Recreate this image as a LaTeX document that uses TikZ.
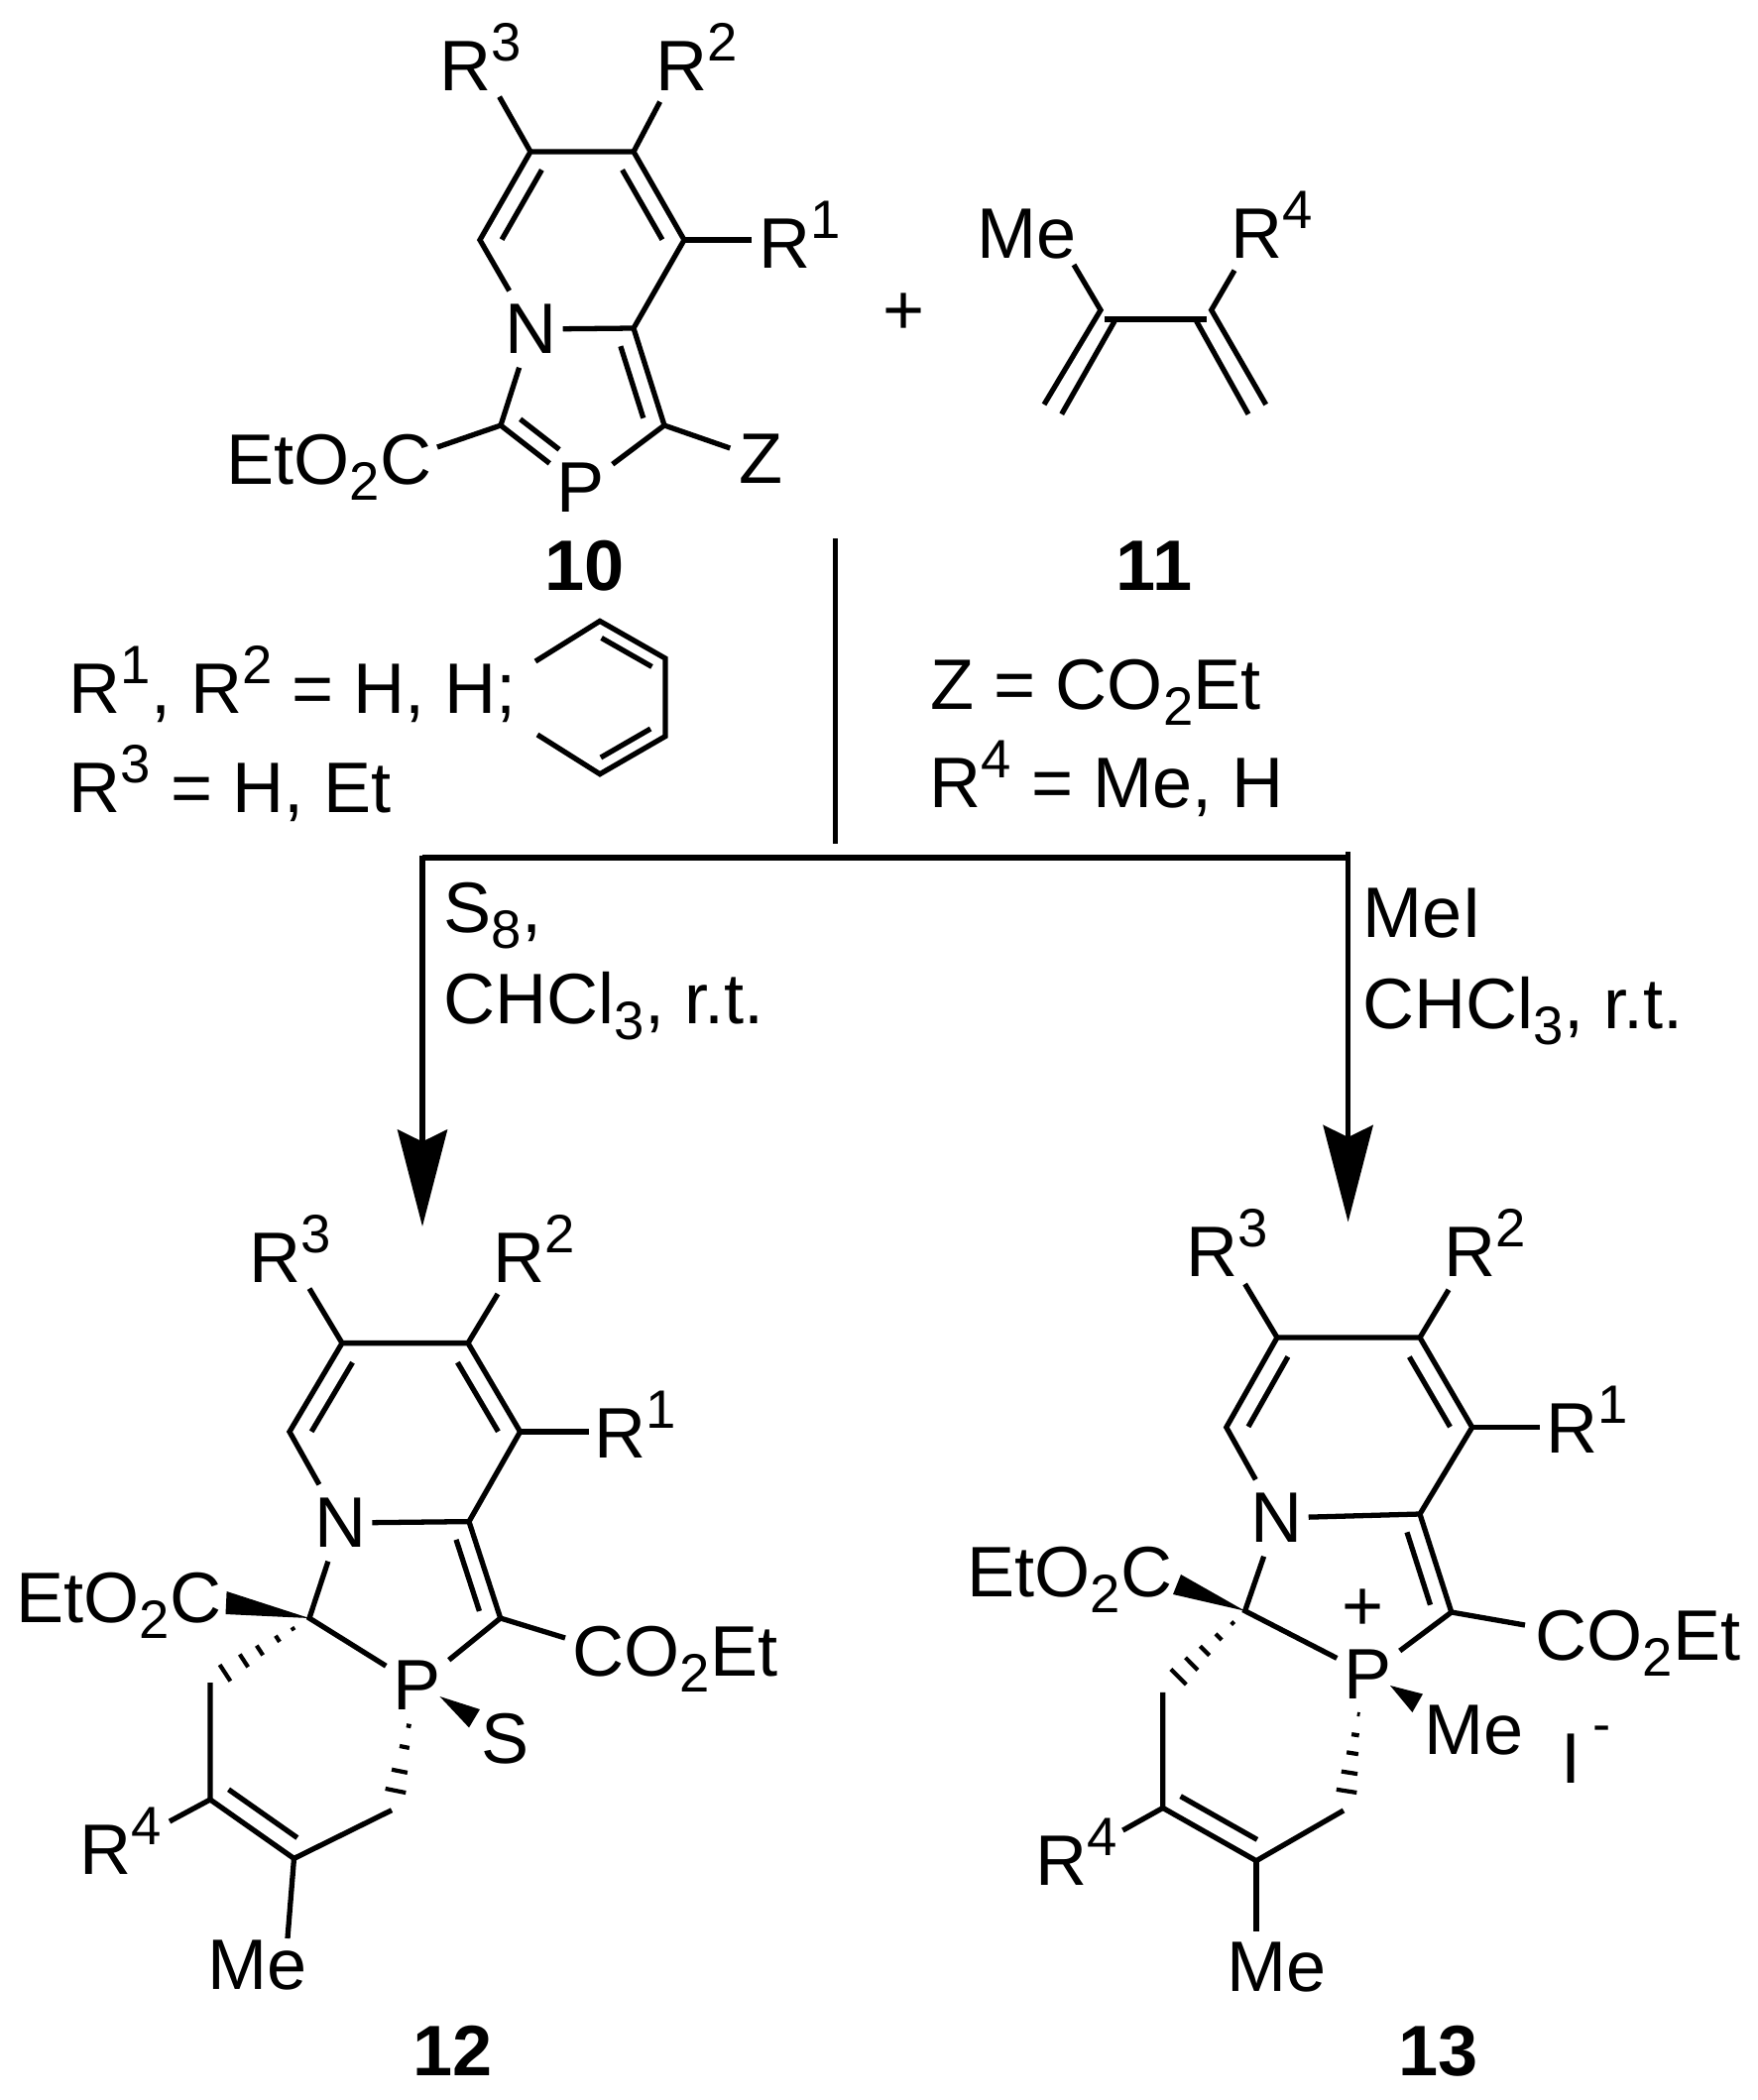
\documentclass[tikz,border=0pt]{standalone}
\usepackage{fontspec}
\setmainfont{Liberation Sans}
\usetikzlibrary{arrows.meta,calc}
\newcommand{\up}[1]{\raisebox{8.5pt}{\fontsize{15.5}{15.5}\selectfont #1}}
\newcommand{\dn}[1]{\raisebox{-4.6pt}{\fontsize{15.5}{15.5}\selectfont #1}}
\newcommand{\upminus}{\raisebox{11.5pt}{\fontsize{15.5}{15.5}\selectfont -}}
% inner line of a double bond: ends, two fractions, offset
\newcommand{\innerbond}[5]{\draw[bond] ($(#1)!#3!(#2)!#5!90:(#2)$) -- ($(#1)!#4!(#2)!#5!90:(#2)$);}
% hashed bond: ends, fractions, half width per unit
\newcommand{\hashbond}[4]{\foreach \t in {#3} {
    \pgfmathsetmacro{\hw}{\t*#4}
    \draw[hashline] ($(#1)!\t!(#2)!\hw pt!90:(#2)$) -- ($(#1)!\t!(#2)!-\hw pt!90:(#2)$);
}}

\begin{document}
\begin{tikzpicture}[
    x=0.01cm, y=-0.01cm,
    bond/.style={line width=1.5pt, black},
    hashline/.style={line width=1.2pt, black},
    wedge/.style={fill=black, draw=none},
    atom/.style={inner sep=0pt, minimum width=0.62cm, minimum height=0.76cm, font=\fontsize{20.5}{24}\selectfont},
    chemlabel/.style={inner sep=0pt, anchor=base west, font=\fontsize{20.5}{24}\selectfont},
    compound/.style={inner sep=0pt, anchor=base, font=\fontsize{20.5}{24}\selectfont\bfseries},
    arrow/.style={-{Stealth[length=0.975cm, width=0.5cm, inset=0.12cm]}, line width=1.5pt, black}
]
\useasboundingbox (0,0) rectangle (1772,2118);

% compound 10
\coordinate (aa) at (535,153);
\coordinate (ab) at (639,153);
\coordinate (ac) at (690,242);
\coordinate (ad) at (639,331);
\coordinate (ae) at (484,242);
\coordinate (af) at (670,429);
\coordinate (ag) at (505,429);
\node[atom] (aN) at (536,332) {N};
\node[atom] (aP) at (586,492) {P};
\node[atom] (aZ) at (768,463) {Z};
\node[chemlabel] (aR3) at (443,91) {R\up{3}};
\node[chemlabel] (aR2) at (661,91) {R\up{2}};
\node[chemlabel] (aR1) at (765,270) {R\up{1}};
\node[chemlabel] (aE) at (228,488) {EtO\dn{2}C};
\node[compound] (n10) at (590,595) {10};
\coordinate (aR3e) at (503.6,97.6);
\coordinate (aR2e) at (665.6,102.6);
\coordinate (aR1e) at (758,242);
\coordinate (aEe) at (441,451);
\draw[bond] (aN) -- (ae) -- (aa) -- (ab) -- (ac) -- (ad) -- (aN);
\draw[bond] (aN) -- (ag) -- (aP) -- (af) -- (ad);
\draw[bond] (aa) -- (aR3e);
\draw[bond] (ab) -- (aR2e);
\draw[bond] (ac) -- (aR1e);
\draw[bond] (ag) -- (aEe);
\draw[bond] (af) -- (aZ);
\innerbond{aa}{ae}{.1}{.89}{.19cm}
\innerbond{ab}{ac}{.1}{.89}{-.19cm}
\innerbond{ad}{af}{.13}{.87}{-.18cm}
\innerbond{ag}{aP}{.114}{.6}{.17cm}

% plus sign
\node[chemlabel, anchor=center] (plus) at (912,317) {+};

% compound 11
\coordinate (bk) at (1110,312.7);
\coordinate (bl) at (1221.7,312.7);
\coordinate (bka) at (1053,408);
\coordinate (bkb) at (1124,324);
\coordinate (bkc) at (1070.7,417.7);
\coordinate (bla) at (1276.7,408);
\coordinate (blb) at (1206.7,324);
\coordinate (blc) at (1259,417.7);
\coordinate (bma) at (1114,322);
\coordinate (bmb) at (1216.7,322);
\coordinate (bMe) at (1083,267);
\coordinate (bRe) at (1245,272.7);
\node[chemlabel] (bMel) at (985,260.7) {Me};
\node[chemlabel] (bR4) at (1241,260.7) {R\up{4}};
\node[compound] (n11) at (1164,595) {11};
\draw[bond] (bMe) -- (bk) -- (bka);
\draw[bond] (bkb) -- (bkc);
\draw[bond] (bma) -- (bmb);
\draw[bond] (bRe) -- (bl) -- (bla);
\draw[bond] (blb) -- (blc);

% conditions
\node[chemlabel] (cA) at (69,719.6) {R\up{1}, R\up{2} = H, H;};
\node[chemlabel] (cB) at (69,819) {R\up{3} = H, Et};
\node[chemlabel] (cC) at (938,715) {Z = CO\dn{2}Et};
\node[chemlabel] (cD) at (937,814.7) {R\up{4} = Me, H};
\coordinate (ra) at (540,667);
\coordinate (rb) at (605,626.4);
\coordinate (rc) at (671,664);
\coordinate (rd) at (671,742.6);
\coordinate (re) at (605,780.7);
\coordinate (rf) at (542,741);
\draw[bond] (ra) -- (rb) -- (rc) -- (rd) -- (re) -- (rf);
\innerbond{rb}{rc}{.13}{.9}{-.14cm}
\innerbond{rd}{re}{.12}{.88}{-.14cm}

% reaction lines
\coordinate (vt) at (842.7,543);
\coordinate (vb) at (842.7,851);
\coordinate (hl) at (426,862.5);
\coordinate (hm) at (426,865);
\coordinate (hr) at (1357,865);
\coordinate (tl) at (426,1237);
\coordinate (rs) at (1359.6,859);
\coordinate (tr) at (1359.6,1232.5);
\draw[bond] (vt) -- (vb);
\draw[bond, line width=1.7pt] (hm) -- (hr);
\draw[arrow] (hl) -- (tl);
\draw[arrow] (rs) -- (tr);
\node[chemlabel] (s8) at (447,940) {S\dn{8},};
\node[chemlabel] (cl) at (447,1032) {CHCl\dn{3}, r.t.};
\node[chemlabel] (mei) at (1374,945) {MeI};
\node[chemlabel] (cr) at (1374,1037) {CHCl\dn{3}, r.t.};

% compound 12
\coordinate (da) at (345,1354.6);
\coordinate (db) at (472,1354.6);
\coordinate (dc) at (524.6,1444);
\coordinate (dd) at (473,1534.6);
\coordinate (de) at (292,1444);
\coordinate (df) at (504.7,1632);
\coordinate (dg) at (312,1632);
\coordinate (dh) at (212,1697);
\coordinate (di) at (212,1815);
\coordinate (dj) at (296.5,1874.4);
\coordinate (dk) at (395,1825.7);
\coordinate (dhs) at (416,1722);
\node[atom] (dN) at (343.6,1536) {N};
\node[atom] (dP) at (421,1700) {P};
\node[chemlabel, anchor=center] (dS) at (510,1754) {S};
\node[chemlabel] (dR3) at (251,1293.4) {R\up{3}};
\node[chemlabel] (dR2) at (497,1293.4) {R\up{2}};
\node[chemlabel] (dR1) at (599,1470.7) {R\up{1}};
\node[chemlabel] (dR4) at (80,1890) {R\up{4}};
\node[chemlabel] (dEa) at (16,1636) {EtO\dn{2}C};
\node[chemlabel] (dEb) at (577,1690) {CO\dn{2}Et};
\node[chemlabel] (dMe) at (209,2006) {Me};
\node[compound] (n12) at (456.6,2093.5) {12};
\coordinate (dR3e) at (312,1299.6);
\coordinate (dR2e) at (502,1305);
\coordinate (dR1e) at (593.6,1444);
\coordinate (dR4e) at (171,1837);
\coordinate (dEe) at (570,1652);
\coordinate (dMee) at (290,1955);
\coordinate (dwa) at (228.6,1605);
\coordinate (dwb) at (227.5,1628);
\coordinate (dsa) at (443.5,1711);
\coordinate (dsb) at (484,1724);
\coordinate (dsc) at (473,1742.4);
\draw[bond] (dN) -- (de) -- (da) -- (db) -- (dc) -- (dd) -- (dN);
\draw[bond] (dN) -- (dg) -- (dP) -- (df) -- (dd);
\draw[bond] (da) -- (dR3e);
\draw[bond] (db) -- (dR2e);
\draw[bond] (dc) -- (dR1e);
\draw[bond] (df) -- (dEe);
\draw[bond] (dh) -- (di) -- (dj) -- (dk);
\draw[bond] (di) -- (dR4e);
\draw[bond] (dj) -- (dMee);
\innerbond{da}{de}{.11}{.89}{.19cm}
\innerbond{db}{dc}{.11}{.89}{-.19cm}
\innerbond{dd}{df}{.13}{.87}{-.18cm}
\innerbond{di}{dj}{.09}{.91}{.19cm}
\fill[wedge] (dg) -- (dwa) -- (dwb) -- cycle;
\fill[wedge] (dsa) -- (dsb) -- (dsc) -- cycle;
\hashbond{dg}{dh}{.165,.32,.5,.66,.85}{3.3}
\hashbond{dhs}{dk}{.18,.385,.62,.81}{3.7}

% compound 13
\coordinate (ea) at (1288,1349);
\coordinate (eb) at (1432,1349);
\coordinate (ec) at (1484.7,1439.5);
\coordinate (ed) at (1432,1527);
\coordinate (ee) at (1236.8,1439.5);
\coordinate (ef) at (1463.8,1626);
\coordinate (eg) at (1255.6,1624.7);
\coordinate (eh) at (1172.8,1706.8);
\coordinate (ei) at (1172.8,1823.4);
\coordinate (ej) at (1267,1876.7);
\coordinate (ek) at (1355,1826);
\coordinate (ehs) at (1372,1717);
\node[atom] (eN) at (1288,1531) {N};
\node[atom] (eP) at (1380,1688.7) {P};
\node[chemlabel, anchor=center] (eplus) at (1374.6,1623.5) {+};
\node[chemlabel] (eR3) at (1196,1287.8) {R\up{3}};
\node[chemlabel] (eR2) at (1456,1287.8) {R\up{2}};
\node[chemlabel] (eR1) at (1559,1465) {R\up{1}};
\node[chemlabel] (eR4) at (1044,1901) {R\up{4}};
\node[chemlabel] (eEa) at (975,1610.5) {EtO\dn{2}C};
\node[chemlabel] (eEb) at (1548,1674.5) {CO\dn{2}Et};
\node[chemlabel] (eMea) at (1237,2008.6) {Me};
\node[chemlabel] (eMeb) at (1436,1769) {Me};
\node[chemlabel] (eI) at (1574,1798) {I\,\upminus};
\node[compound] (n13) at (1450.6,2093.5) {13};
\coordinate (eR3e) at (1255.6,1295);
\coordinate (eR2e) at (1461,1300.8);
\coordinate (eR1e) at (1553,1439.5);
\coordinate (eR4e) at (1132.4,1846);
\coordinate (eEe) at (1538,1639);
\coordinate (eMee) at (1267,1947.5);
\coordinate (ewa) at (1191,1588);
\coordinate (ewb) at (1183,1608);
\coordinate (esa) at (1402,1700);
\coordinate (esb) at (1435,1708.5);
\coordinate (esc) at (1424.4,1727);
\draw[bond] (eN) -- (ee) -- (ea) -- (eb) -- (ec) -- (ed) -- (eN);
\draw[bond] (eN) -- (eg) -- (eP) -- (ef) -- (ed);
\draw[bond] (ea) -- (eR3e);
\draw[bond] (eb) -- (eR2e);
\draw[bond] (ec) -- (eR1e);
\draw[bond] (ef) -- (eEe);
\draw[bond] (eh) -- (ei) -- (ej) -- (ek);
\draw[bond] (ei) -- (eR4e);
\draw[bond] (ej) -- (eMee);
\innerbond{ea}{ee}{.11}{.89}{.19cm}
\innerbond{eb}{ec}{.11}{.89}{-.19cm}
\innerbond{ed}{ef}{.13}{.87}{-.18cm}
\innerbond{ei}{ej}{.09}{.91}{.19cm}
\fill[wedge] (eg) -- (ewa) -- (ewb) -- cycle;
\fill[wedge] (esa) -- (esb) -- (esc) -- cycle;
\hashbond{eg}{eh}{.15,.32,.49,.65,.81}{3.85}
\hashbond{ehs}{ek}{.11,.3,.47,.65,.82}{3.6}

\end{tikzpicture}
\end{document}
